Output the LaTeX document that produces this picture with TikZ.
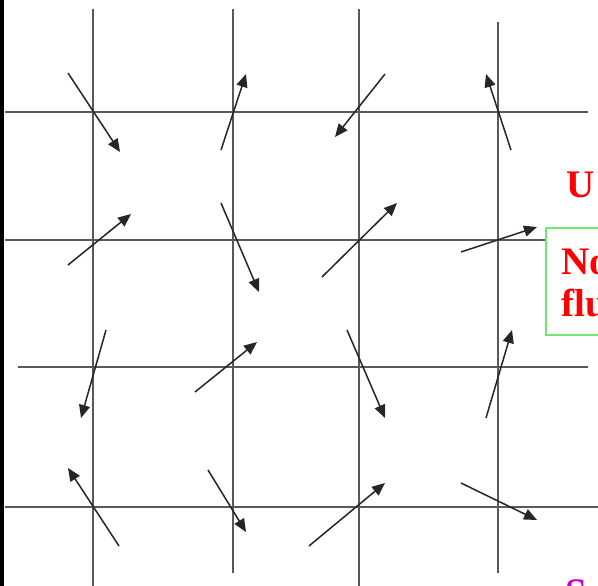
\documentclass[tikz,border=0pt]{standalone}
\usepackage{fontspec}
\setmainfont{Liberation Serif}
\usetikzlibrary{arrows.meta}
\definecolor{spinmag}{RGB}{200,0,200}
\definecolor{boxgreen}{RGB}{110,235,110}
\begin{document}
\begin{tikzpicture}[x=1pt,y=-1pt,
  gridline/.style={draw=black!65,line width=1.8pt},
  spin/.style={draw=black!85,line width=1.5pt,-{Triangle[length=13pt,width=11pt]}},
  redtxt/.style={text=red,font=\bfseries\fontsize{39}{42}\selectfont,inner sep=0pt,anchor=base west},
  ]
\useasboundingbox (0,0) rectangle (598,586);
\clip (0,0) rectangle (598,586);
\fill[white] (0,0) rectangle (598,586);
\fill[black] (0,0) rectangle (4,586);
% grid coordinates
\coordinate (h1a) at (5,112); \coordinate (h1b) at (588,112);
\coordinate (h2a) at (5,240); \coordinate (h2b) at (546,240);
\coordinate (h3a) at (18,367); \coordinate (h3b) at (588,367);
\coordinate (h4a) at (5,507); \coordinate (h4b) at (598,507);
\coordinate (v1a) at (93,9); \coordinate (v1b) at (93,586);
\coordinate (v2a) at (233,9); \coordinate (v2b) at (233,573);
\coordinate (v3a) at (359,9); \coordinate (v3b) at (359,586);
\coordinate (v4a) at (498,22); \coordinate (v4b) at (498,573);
\foreach \n in {h1,h2,h3,h4,v1,v2,v3,v4} \draw[gridline] (\n a) -- (\n b);
% spins: tail and head
\coordinate (t11) at (68,73);  \coordinate (e11) at (120,152);
\coordinate (t12) at (221,150); \coordinate (e12) at (246,74);
\coordinate (t13) at (385,74); \coordinate (e13) at (335,137);
\coordinate (t14) at (511,150); \coordinate (e14) at (486,74);
\coordinate (t21) at (68,265); \coordinate (e21) at (131,214);
\coordinate (t22) at (221,203); \coordinate (e22) at (259,292);
\coordinate (t23) at (322,277); \coordinate (e23) at (397,203);
\coordinate (t24) at (461,252); \coordinate (e24) at (537,227);
\coordinate (t31) at (106,330); \coordinate (e31) at (81,418);
\coordinate (t32) at (195,392); \coordinate (e32) at (257,342);
\coordinate (t33) at (347,330); \coordinate (e33) at (385,418);
\coordinate (t34) at (486,418); \coordinate (e34) at (512,330);
\coordinate (t41) at (119,546); \coordinate (e41) at (68,468);
\coordinate (t42) at (208,470); \coordinate (e42) at (246,532);
\coordinate (t43) at (309,546); \coordinate (e43) at (385,483);
\coordinate (t44) at (461,483); \coordinate (e44) at (537,520);
\foreach \r in {1,2,3,4}{\foreach \c in {1,2,3,4}{\draw[spin] (t\r\c) -- (e\r\c);}}
% text
\node[redtxt] (u) at (566,197) {U};
\draw[draw=boxgreen,line width=1.4pt] (620,228) -- (546,228) -- (546,335) -- (620,335);
\node[redtxt] (no) at (561,274) {No};
\node[redtxt] (flu) at (561,316) {flu};
\node[redtxt,text=spinmag] (sa) at (565,605) {Sa};
\end{tikzpicture}
\end{document}
